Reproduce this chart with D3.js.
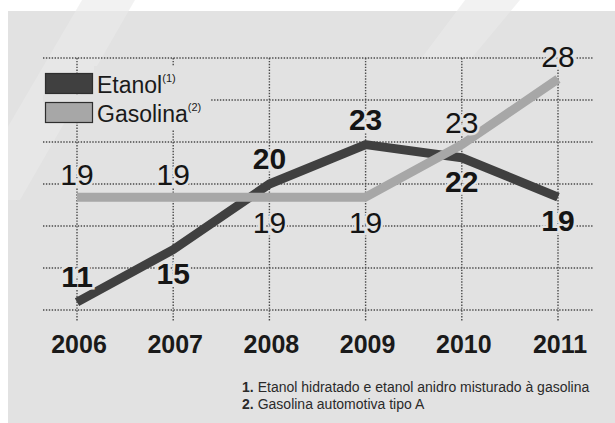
<head>
    <meta charset="utf-8">
    <style> body { margin: 0; background: #fff; } text { font-family: "Liberation Sans", Arial, sans-serif; } </style>
    <script src="https://d3js.org/d3.v7.min.js"></script>
</head>
<body>
<div id="chart"></div>
<script>

    var years = [2006, 2007, 2008, 2009, 2010, 2011];
    var etanol = [11, 15, 20, 23, 22, 19];
    var gasolina = [19, 19, 19, 19, 23, 28];
    // which side of the line each value label sits on
    var etanolSide = ["up", "down", "up", "up", "down", "down"];
    var gasolinaSide = ["up", "up", "down", "down", "up", "up"];
    var gridTicks = [10.4, 13.6, 16.8, 20, 23.2, 26.4, 29.6];
    var legendNames = ["Etanol", "Gasolina"];
    var legendNotes = ["(1)", "(2)"];
    var footnoteNums = ["1.", "2."];
    var footnoteTexts = [
        "Etanol hidratado e etanol anidro misturado à gasolina",
        "Gasolina automotiva tipo A"
    ];

    var W = 615, H = 423;
    var panel = "#e2e2e2",
        cEtanol = "#404040",
        cGasolina = "#a7a7a7";

    var svg = d3.select("#chart").append("svg")
        .attr("width", W)
        .attr("height", H);

    // faint watermark stripes behind everything
    var defs = svg.append("defs");
    defs.append("clipPath").attr("id", "top")
        .append("rect").attr("x", 0).attr("y", 0).attr("width", W).attr("height", 11);
    defs.append("clipPath").attr("id", "inside")
        .append("rect").attr("x", 8).attr("y", 11).attr("width", W - 8).attr("height", H - 11);

    svg.append("rect")
        .attr("x", 8).attr("y", 11)
        .attr("width", W - 8).attr("height", H - 11)
        .attr("fill", panel);

    var stripes = [
        [[82, 0], [135, 0], [20, 200], [-35, 200]],
        [[465, 0], [520, 0], [470, 60], [420, 60]]
    ];
    stripes.forEach(function(p) {
        svg.append("polygon")
            .attr("points", p.join(" "))
            .attr("clip-path", "url(#top)")
            .attr("fill", "#000").attr("opacity", 0.05);
        svg.append("polygon")
            .attr("points", p.join(" "))
            .attr("clip-path", "url(#inside)")
            .attr("fill", "#fff").attr("opacity", 0.18);
    });

    var x = d3.scaleLinear()
        .domain([2006, 2011])
        .range([77, 558]);

    var y = d3.scaleLinear()
        .domain([10.4, 29.6])
        .range([310, 58]);

    // dotted grid
    var grid = svg.append("g")
        .attr("stroke", "#4a4a4a")
        .attr("stroke-width", 1.4)
        .attr("stroke-dasharray", "1.4 1.5");

    grid.selectAll(".h").data(gridTicks).join("line")
        .attr("x1", x(2006) - 34).attr("x2", x(2011) + 35)
        .attr("y1", d => y(d)).attr("y2", d => y(d));

    grid.selectAll(".v").data(years).join("line")
        .attr("x1", d => x(d)).attr("x2", d => x(d))
        .attr("y1", y(29.6)).attr("y2", y(10.4) + 12);

    // legend
    var legend = svg.append("g");
    legend.append("rect")
        .attr("x", 94).attr("y", 66)
        .attr("width", 116).attr("height", 64)
        .attr("fill", panel);
    legend.append("rect")
        .attr("x", 43).attr("y", 95)
        .attr("width", 52).attr("height", 7)
        .attr("fill", panel);

    legendNames.forEach(function(name, i) {
        legend.append("rect")
            .attr("x", 45.5).attr("y", 73.5 + i * 29)
            .attr("width", 47).attr("height", 20)
            .attr("fill", i === 0 ? cEtanol : cGasolina)
            .attr("stroke", "#2e2e2e")
            .attr("stroke-width", 1.2);
        var t = legend.append("text")
            .attr("x", 97).attr("y", 93 + i * 29)
            .attr("font-size", 23)
            .attr("fill", "#1a1a1a")
            .text(name);
        t.append("tspan")
            .attr("font-size", 11)
            .attr("dy", -11)
            .text(legendNotes[i]);
    });

    // lines
    var line = d3.line()
        .x((d, i) => x(years[i]))
        .y(d => y(d));

    svg.append("path")
        .datum(etanol)
        .attr("fill", "none")
        .attr("stroke", cEtanol)
        .attr("stroke-width", 9)
        .attr("stroke-linejoin", "round")
        .attr("d", line);

    svg.append("path")
        .datum(gasolina)
        .attr("fill", "none")
        .attr("stroke", cGasolina)
        .attr("stroke-width", 9)
        .attr("stroke-linejoin", "round")
        .attr("d", line);

    // value labels
    function addLabels(values, sides, weight, up, down) {
        svg.append("g").selectAll("text").data(values).join("text")
            .attr("x", (d, i) => x(years[i]))
            .attr("y", (d, i) => y(d) + (sides[i] === "up" ? up : down))
            .attr("text-anchor", "middle")
            .attr("font-size", 30)
            .attr("font-weight", weight)
            .attr("fill", "#151515")
            .attr("stroke", panel)
            .attr("stroke-width", 5)
            .attr("paint-order", "stroke")
            .text(d => d);
    }
    addLabels(etanol, etanolSide, "bold", -15, 34);
    addLabels(gasolina, gasolinaSide, "normal", -12, 36);

    // years
    svg.append("g").selectAll("text").data(years).join("text")
        .attr("x", d => x(d) + 2)
        .attr("y", 353)
        .attr("text-anchor", "middle")
        .attr("font-size", 25)
        .attr("font-weight", "bold")
        .attr("fill", "#1a1a1a")
        .text(d => d);

    // footnotes
    footnoteTexts.forEach(function(f, i) {
        var num = svg.append("text")
            .attr("x", 242).attr("y", 392 + i * 16.5)
            .attr("font-size", 14)
            .attr("font-weight", "bold")
            .attr("fill", "#2a2a2a")
            .text(footnoteNums[i]);
        var w = num.node().getComputedTextLength();
        svg.append("text")
            .attr("x", 242 + w + 4).attr("y", 392 + i * 16.5)
            .attr("font-size", 14)
            .attr("fill", "#2a2a2a")
            .text(f);
    });

</script>
</body>
